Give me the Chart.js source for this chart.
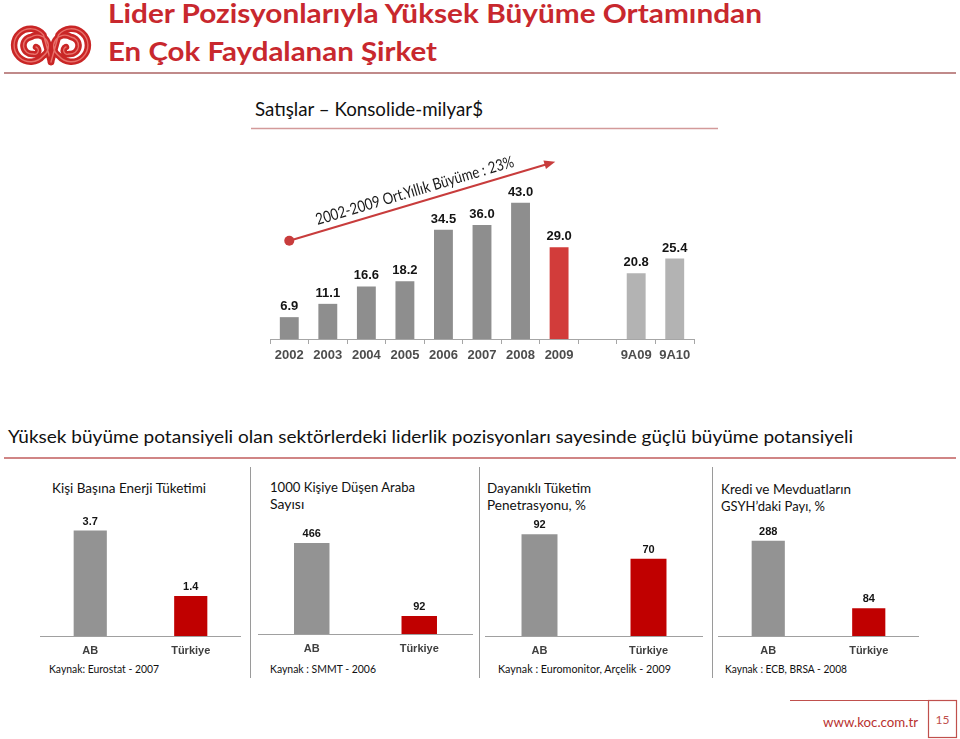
<!DOCTYPE html>
<html lang="tr">
<head>
<meta charset="utf-8">
<title>Satışlar – Konsolide-milyar$</title>
<script src="https://cdn.jsdelivr.net/npm/chart.js@4.4.1/dist/chart.umd.min.js"></script>
<style>
  html, body { margin: 0; padding: 0; background: #fff; }
  #page { position: relative; width: 960px; height: 739px; overflow: hidden; font-family: Lato, "Noto Sans", sans-serif; }
  #page svg.bg { position: absolute; left: 0; top: 0; }
  canvas { position: absolute; }
</style>
</head>
<body>
<div id="page">
  <svg class="bg" width="960" height="739" font-family="Lato, 'Noto Sans', sans-serif">
    <!-- logo -->
    <g fill="none" stroke-linecap="round" stroke-linejoin="round">
      <g id="horn">
        <path stroke="#c92626" stroke-width="6.5" d="M51 62 L43.5 35 A16.5 16.5 0 1 0 43.3 55.8 A10 10 0 0 0 31 37 A7 7 0 0 0 33 54 A3.5 3.5 0 0 0 36 47"/>
        <path stroke="#e8706a" stroke-width="1.4" d="M51 62 L43.5 35 A16.5 16.5 0 1 0 43.3 55.8 A10 10 0 0 0 31 37 A7 7 0 0 0 33 54 A3.5 3.5 0 0 0 36 47"/>
      </g>
      <use href="#horn" transform="matrix(-1 0 0 1 102 0)"/>
    </g>

    <text x="108" y="23" font-size="26" font-weight="700" fill="#c8282e" textLength="654" lengthAdjust="spacingAndGlyphs">Lider Pozisyonlarıyla Yüksek Büyüme Ortamından</text>
    <text x="108" y="61" font-size="26" font-weight="700" fill="#c8282e" textLength="329" lengthAdjust="spacingAndGlyphs">En Çok Faydalanan Şirket</text>
    <line x1="4" y1="73" x2="956" y2="73" stroke="#c08a8a" stroke-width="2"/>

    <text x="255" y="116" font-size="19" fill="#111" textLength="228" lengthAdjust="spacingAndGlyphs">Satışlar – Konsolide-milyar$</text>
    <line x1="251" y1="128.5" x2="718" y2="128.5" stroke="#d39a9a" stroke-width="1.5"/>

    <text x="8" y="443" font-size="18" fill="#111" textLength="845" lengthAdjust="spacingAndGlyphs">Yüksek büyüme potansiyeli olan sektörlerdeki liderlik pozisyonları sayesinde güçlü büyüme potansiyeli</text>
    <line x1="4" y1="458" x2="956" y2="458" stroke="#d08585" stroke-width="2"/>

    <!-- panel separators -->
    <g stroke="#9a9a9a" stroke-width="1">
      <line x1="250.5" y1="467" x2="250.5" y2="678"/>
      <line x1="479.5" y1="467" x2="479.5" y2="678"/>
      <line x1="712.5" y1="467" x2="712.5" y2="678"/>
    </g>

    <!-- panel titles -->
    <g font-size="14" fill="#111">
      <text x="52" y="493" textLength="154" lengthAdjust="spacingAndGlyphs">Kişi Başına Enerji Tüketimi</text>
      <text x="270" y="492" textLength="145" lengthAdjust="spacingAndGlyphs">1000 Kişiye Düşen Araba</text>
      <text x="270" y="509">Sayısı</text>
      <text x="487" y="493" textLength="104" lengthAdjust="spacingAndGlyphs">Dayanıklı Tüketim</text>
      <text x="487" y="510" textLength="99" lengthAdjust="spacingAndGlyphs">Penetrasyonu, %</text>
      <text x="721" y="494" textLength="130" lengthAdjust="spacingAndGlyphs">Kredi ve Mevduatların</text>
      <text x="721" y="511" textLength="104" lengthAdjust="spacingAndGlyphs">GSYH’daki Payı, %</text>
    </g>

    <!-- sources -->
    <g font-size="12" fill="#111">
      <text x="49" y="673" textLength="110" lengthAdjust="spacingAndGlyphs">Kaynak: Eurostat - 2007</text>
      <text x="270" y="673" textLength="106" lengthAdjust="spacingAndGlyphs">Kaynak : SMMT - 2006</text>
      <text x="498" y="673" textLength="173" lengthAdjust="spacingAndGlyphs">Kaynak : Euromonitor, Arçelik - 2009</text>
      <text x="725" y="673" textLength="122" lengthAdjust="spacingAndGlyphs">Kaynak : ECB, BRSA - 2008</text>
    </g>

    <!-- footer -->
    <g stroke="#c0504d" stroke-width="1.2" fill="none">
      <line x1="790" y1="700.5" x2="928.5" y2="700.5"/>
      <rect x="928.5" y="700.5" width="28" height="37"/>
    </g>
    <text x="823" y="727" font-size="14" fill="#b8312f" textLength="95" lengthAdjust="spacingAndGlyphs">www.koc.com.tr</text>
    <text x="942.5" y="724" font-size="12" fill="#c0504d" text-anchor="middle">15</text>
  </svg>

  <canvas id="salesChart" width="450" height="230" style="left:260px;top:140px"></canvas>
  <canvas id="p1" width="201" height="150" style="left:40px;top:510px"></canvas>
  <canvas id="p2" width="215" height="150" style="left:258px;top:508px"></canvas>
  <canvas id="p3" width="218" height="150" style="left:485px;top:510px"></canvas>
  <canvas id="p4" width="201" height="150" style="left:718px;top:510px"></canvas>
</div>

<script>
// Sales, consolidated (billion $)
const years = ['2002', '2003', '2004', '2005', '2006', '2007', '2008', '2009', '', '9A09', '9A10'];
const sales = [6.9, 11.1, 16.6, 18.2, 34.5, 36.0, 43.0, 29.0, null, 20.8, 25.4];
const growthLabel = '2002-2009 Ort.Yıllık Büyüme : 23%';
// arrow ends as [category index, value]
const arrowFrom = [0, 31];
const arrowTo = [6.9, 56];

// small comparison panels
const panelCats = ['AB', 'Türkiye'];
const energyUse = [3.7, 1.4];
const carsPer1000 = [466, 92];
const durablesPen = [92, 70];
const creditDeposits = [288, 84];
const panelMax = [4.42, 646, 114, 381];

const GRAY = '#8e8e8e';
const LIGHT = '#b3b3b3';
const RED = '#d23c3a';
const salesColors = years.map((y, i) => y === '2009' ? RED : (y.startsWith('9A') ? LIGHT : GRAY));

Chart.defaults.font.family = '"Liberation Sans", Arial, sans-serif';

function valueLabels(size, gap, digits) {
    return {
        id: 'valueLabels',
        afterDatasetsDraw(chart) {
            const ctx = chart.ctx;
            const data = chart.data.datasets[0].data;
            ctx.save();
            ctx.font = `bold ${size}px "Liberation Sans", Arial, sans-serif`;
            ctx.fillStyle = '#141414';
            ctx.textAlign = 'center';
            ctx.textBaseline = 'alphabetic';
            chart.getDatasetMeta(0).data.forEach((bar, i) => {
                if (data[i] == null) return;
                const txt = digits == null ? String(data[i]) : data[i].toFixed(digits);
                ctx.fillText(txt, bar.x, bar.y - gap);
            });
            ctx.restore();
        }
    };
}

const growthArrow = {
    id: 'growthArrow',
    afterDatasetsDraw(chart) {
        const { ctx, scales: { x, y } } = chart;
        const x0 = x.getPixelForValue(arrowFrom[0]), y0 = y.getPixelForValue(arrowFrom[1]);
        const x1 = x.getPixelForValue(arrowTo[0]), y1 = y.getPixelForValue(arrowTo[1]);
        const a = Math.atan2(y1 - y0, x1 - x0);
        ctx.save();
        ctx.strokeStyle = '#c83c3c';
        ctx.fillStyle = '#c83c3c';
        ctx.lineWidth = 2;
        ctx.beginPath();
        ctx.moveTo(x0, y0);
        ctx.lineTo(x1 - 8 * Math.cos(a), y1 - 8 * Math.sin(a));
        ctx.stroke();
        // head
        ctx.beginPath();
        ctx.moveTo(x1, y1);
        ctx.lineTo(x1 - 11 * Math.cos(a) + 4.5 * Math.sin(a), y1 - 11 * Math.sin(a) - 4.5 * Math.cos(a));
        ctx.lineTo(x1 - 11 * Math.cos(a) - 4.5 * Math.sin(a), y1 - 11 * Math.sin(a) + 4.5 * Math.cos(a));
        ctx.closePath();
        ctx.fill();
        // dot
        ctx.beginPath();
        ctx.arc(x0, y0, 5, 0, Math.PI * 2);
        ctx.fill();
        // label along the arrow
        const t = 0.485;
        ctx.translate(x0 + (x1 - x0) * t, y0 + (y1 - y0) * t);
        ctx.rotate(a);
        ctx.font = '16px Lato, "Noto Sans", sans-serif';
        ctx.fillStyle = '#1a1a1a';
        ctx.textAlign = 'center';
        ctx.textBaseline = 'alphabetic';
        const w = ctx.measureText(growthLabel).width;
        ctx.scale(206 / w, 1);
        ctx.fillText(growthLabel, 0, -7);
        ctx.restore();
    }
};

new Chart(document.getElementById('salesChart'), {
    type: 'bar',
    data: {
        labels: years,
        datasets: [{ data: sales, backgroundColor: salesColors, categoryPercentage: 1, barPercentage: 0.49 }]
    },
    options: {
        responsive: false,
        animation: false,
        devicePixelRatio: 1,
        layout: { padding: { left: 10, right: 16, top: 9, bottom: 0 } },
        plugins: { legend: { display: false }, tooltip: { enabled: false } },
        scales: {
            x: {
                grid: { offset: true, drawOnChartArea: false, drawTicks: true, tickLength: 5, color: '#a6a6a6' },
                border: { color: '#a6a6a6' },
                ticks: { padding: 4, color: '#4d4d4d', font: { size: 13, weight: 'bold' }, autoSkip: false, maxRotation: 0 },
                afterFit: s => { s.height = 31; }
            },
            y: { display: false, min: 0, max: 60 }
        }
    },
    plugins: [valueLabels(13, 7, 1), growthArrow]
});

function panelChart(id, values, yMax) {
    new Chart(document.getElementById(id), {
        type: 'bar',
        data: {
            labels: panelCats,
            datasets: [{ data: values, backgroundColor: ['#939393', '#c00000'], categoryPercentage: 1, barPercentage: 0.33 }]
        },
        options: {
            responsive: false,
            animation: false,
            devicePixelRatio: 1,
            layout: { padding: 0 },
            plugins: { legend: { display: false }, tooltip: { enabled: false } },
            scales: {
                x: {
                    grid: { drawOnChartArea: false, drawTicks: false },
                    border: { color: '#a0a0a0' },
                    ticks: { padding: 8, color: '#3f3f3f', font: { size: 11, weight: 'bold' }, maxRotation: 0 },
                    afterFit: s => { s.height = 24; }
                },
                y: { display: false, min: 0, max: yMax }
            }
        },
        plugins: [valueLabels(11, 6)]
    });
}

panelChart('p1', energyUse, panelMax[0]);
panelChart('p2', carsPer1000, panelMax[1]);
panelChart('p3', durablesPen, panelMax[2]);
panelChart('p4', creditDeposits, panelMax[3]);
</script>
</body>
</html>
